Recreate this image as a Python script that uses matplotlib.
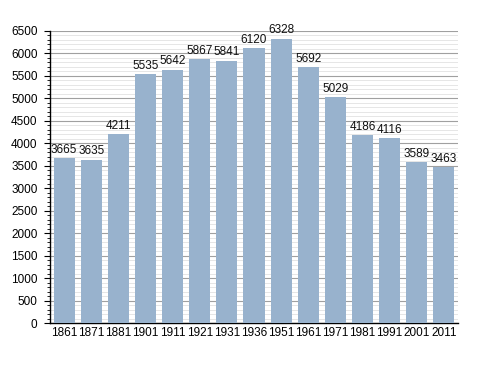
import numpy as np
import matplotlib
matplotlib.use("Agg")
import matplotlib.pyplot as plt
from matplotlib.ticker import MultipleLocator

plt.rcParams["font.family"] = ["Liberation Sans", "DejaVu Sans"]

# census years and population
years = ["1861", "1871", "1881", "1901", "1911", "1921", "1931", "1936",
         "1951", "1961", "1971", "1981", "1991", "2001", "2011"]
population = [3665, 3635, 4211, 5535, 5642, 5867, 5841, 6120,
              6328, 5692, 5029, 4186, 4116, 3589, 3463]

fig = plt.figure(figsize=(4.88, 3.73), dpi=100)
ax = fig.add_axes([0.1025, 0.134, 0.836, 0.783])

x = np.arange(len(years))
ax.bar(x, population, width=0.78, color="#98b2cd", zorder=3)

for xi, v in zip(x, population):
    ax.text(xi, v + 50, str(v), ha="center", va="bottom", fontsize=8.5,
            color="#111111", zorder=4)

ax.set_xlim(-0.52, len(years) - 0.48)
ax.set_ylim(0, 6500)
ax.yaxis.set_major_locator(MultipleLocator(500))
ax.yaxis.set_minor_locator(MultipleLocator(100))
ax.grid(which="major", axis="y", color="#a0a0a0", linewidth=0.8, zorder=1)
ax.grid(which="minor", axis="y", color="#e2e2e2", linewidth=0.6, zorder=0)

ax.set_xticks(x)
ax.set_xticklabels(years)
ax.tick_params(axis="x", length=0, labelsize=8.5, pad=3)
ax.tick_params(axis="y", which="major", length=4, width=0.8, labelsize=8.5,
               direction="out", pad=5)
ax.tick_params(axis="y", which="minor", length=2.5, width=0.6, direction="out")

for s in ["top", "right"]:
    ax.spines[s].set_visible(False)
ax.spines["left"].set_linewidth(1.0)
ax.spines["bottom"].set_linewidth(1.0)

fig.savefig("out.png", dpi=100)
